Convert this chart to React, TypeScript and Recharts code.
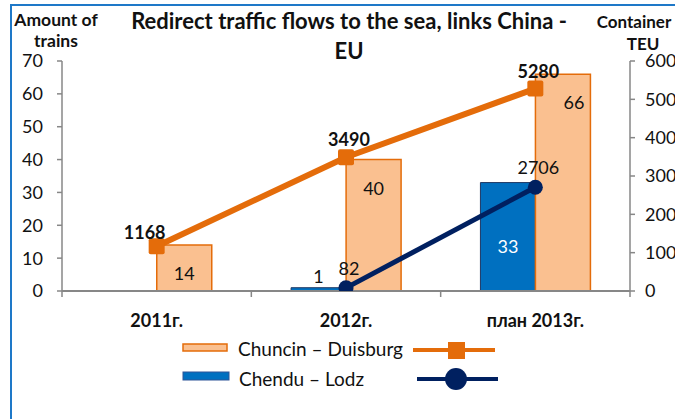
import React from 'react';
import { ComposedChart, Bar, Line, XAxis, YAxis, LabelList, Legend } from 'recharts';

const categories = ['2011г.', '2012г.', 'план 2013г.'];
const chuncinTrains = [14, 40, 66];
const chenduTrains: (number | null)[] = [null, 1, 33];
const chuncinTEU = [1168, 3490, 5280];
const chenduTEU: (number | null)[] = [null, 82, 2706];
const leftTicks = [0, 10, 20, 30, 40, 50, 60, 70];
const rightTicks = [0, 1000, 2000, 3000, 4000, 5000, 6000];

const seriesNames = {
  chuncin: 'Chuncin – Duisburg',
  chendu: 'Chendu – Lodz',
};

const data = categories.map((cat, i) => ({
  cat,
  chuncinTrains: chuncinTrains[i],
  chenduTrains: chenduTrains[i],
  chuncinTEU: chuncinTEU[i],
  chenduTEU: chenduTEU[i],
}));

const FONT = 'Lato, "Open Sans", sans-serif';
const ORANGE = '#E46C0A';
const ORANGE_FILL = '#FAC090';
const BLUE = '#0070C0';
const BLUE_EDGE = '#1F3864';
const NAVY = '#002060';
const AXIS = '#878787';
const TEXT = '#111111';

const XTick = (props: any) => {
  const { x, y, payload, index } = props;
  const off = payload && payload.offset ? payload.offset : 568 / categories.length / 2;
  return (
    <g>
      <line x1={x - off} x2={x - off} y1={y} y2={y + 6} stroke={AXIS} strokeWidth={1.5} />
      {index === categories.length - 1 && (
        <line x1={x + off} x2={x + off} y1={y} y2={y + 6} stroke={AXIS} strokeWidth={1.5} />
      )}
      <text x={x} y={y + 36} textAnchor="middle" fontFamily={FONT} fontWeight="bold" fontSize={18} fill={TEXT}>
        {payload.value}
      </text>
    </g>
  );
};

const chuncinBarLabel = (p: any) => {
  const { x, y, width, value, index } = p;
  if (value == null) return null;
  const shift = index === categories.length - 1 ? 11 : 0;
  return (
    <text x={x + width / 2 + shift} y={y + 29 + 6} textAnchor="middle" fontFamily={FONT} fontSize={18} fill={TEXT}>
      {value}
    </text>
  );
};

const chenduBarLabel = (p: any) => {
  const { x, y, width, height, value } = p;
  if (value == null) return null;
  const inside = height > 20;
  return (
    <text
      x={x + width / 2}
      y={inside ? y + height / 2 + 10 + 6 : y - 11 + 6}
      textAnchor="middle"
      fontFamily={FONT}
      fontSize={18}
      fill={inside ? '#ffffff' : TEXT}
    >
      {value}
    </text>
  );
};

const makeLineLabel = (bold: boolean) => (p: any) => {
  const { x, y, value, index } = p;
  if (value == null) return null;
  const first = bold && index === 0;
  const dx = first ? -12 : 3;
  const dy = first ? -13 : bold ? -17 : -19;
  return (
    <text x={x + dx} y={y + dy + 6} textAnchor="middle" fontFamily={FONT} fontSize={18}
      fontWeight={bold ? 'bold' : 'normal'} fill={TEXT}>
      {value}
    </text>
  );
};

const SquareDot = (p: any) => {
  const { cx, cy, value } = p;
  if (value == null || cx == null || cy == null) return <g />;
  return <rect x={cx - 8} y={cy - 8} width={16} height={16} rx={2} fill={ORANGE} />;
};

const CircleDot = (p: any) => {
  const { cx, cy, value } = p;
  if (value == null || cx == null || cy == null) return <g />;
  return <circle cx={cx} cy={cy} r={7.5} fill={NAVY} />;
};

const LegendContent = () => (
  <svg width={675} height={60} style={{ display: 'block' }}>
    <rect x={183} y={14} width={44} height={7} fill={ORANGE_FILL} stroke={ORANGE} strokeWidth={1.5} />
    <text x={238} y={26} fontFamily={FONT} fontSize={19} fill={TEXT}>{seriesNames.chuncin}</text>
    <line x1={413} x2={495} y1={20} y2={20} stroke={ORANGE} strokeWidth={4} />
    <rect x={448} y={12} width={17} height={17} fill={ORANGE} />
    <rect x={183} y={42} width={46} height={8} fill={BLUE} stroke="#2F5597" strokeWidth={1} />
    <text x={239} y={56} fontFamily={FONT} fontSize={19} fill={TEXT}>{seriesNames.chendu}</text>
    <line x1={417} x2={498} y1={49} y2={49} stroke={NAVY} strokeWidth={4} />
    <circle cx={456} cy={49} r={11} fill={NAVY} />
  </svg>
);

export default function App() {
  return (
    <div style={{ position: 'absolute', left: 0, top: 0, width: 675, height: 419, overflow: 'hidden', background: '#fff', fontFamily: FONT }}>
      <div style={{ position: 'absolute', left: 10, top: 4, width: 720, height: 500, border: '2.5px solid #1E78C8', boxSizing: 'border-box' }} />
      <div style={{ position: 'absolute', left: 0, top: 0 }}>
        <ComposedChart width={720} height={419} data={data} margin={{ top: 61, right: 0, left: 0, bottom: 0 }}
          barGap={0} barCategoryGap="21%">
          <XAxis dataKey="cat" xAxisId="x" height={128} tickLine={false} tickSize={0} tickMargin={0}
            axisLine={{ stroke: AXIS, strokeWidth: 2 }} tick={<XTick />} interval={0} />
          <YAxis yAxisId="left" orientation="left" width={62} domain={[0, 70]} ticks={leftTicks}
            allowDataOverflow tickSize={5} tickMargin={14}
            axisLine={{ stroke: AXIS, strokeWidth: 1.5 }} tickLine={{ stroke: AXIS, strokeWidth: 1.5 }}
            tick={{ fontFamily: FONT, fontSize: 18, fill: TEXT }} />
          <YAxis yAxisId="right" orientation="right" width={90} domain={[0, 6000]} ticks={rightTicks}
            allowDataOverflow tickSize={5} tickMargin={10}
            axisLine={{ stroke: AXIS, strokeWidth: 1.5 }} tickLine={{ stroke: AXIS, strokeWidth: 1.5 }}
            tick={{ fontFamily: FONT, fontSize: 18, fill: TEXT }} />
          <Bar xAxisId="x" yAxisId="left" dataKey="chenduTrains" name={seriesNames.chendu} fill={BLUE}
            stroke={BLUE_EDGE} strokeWidth={1} isAnimationActive={false}>
            <LabelList dataKey="chenduTrains" content={chenduBarLabel} />
          </Bar>
          <Bar xAxisId="x" yAxisId="left" dataKey="chuncinTrains" name={seriesNames.chuncin} fill={ORANGE_FILL}
            stroke={ORANGE} strokeWidth={1.5} isAnimationActive={false}>
            <LabelList dataKey="chuncinTrains" content={chuncinBarLabel} />
          </Bar>
          <Line xAxisId="x" yAxisId="right" dataKey="chuncinTEU" name={seriesNames.chuncin} stroke={ORANGE}
            strokeWidth={6} dot={<SquareDot />} activeDot={false} isAnimationActive={false}>
            <LabelList dataKey="chuncinTEU" content={makeLineLabel(true)} />
          </Line>
          <Line xAxisId="x" yAxisId="right" dataKey="chenduTEU" name={seriesNames.chendu} stroke={NAVY}
            strokeWidth={5} dot={<CircleDot />} activeDot={false} isAnimationActive={false}>
            <LabelList dataKey="chenduTEU" content={makeLineLabel(false)} />
          </Line>
          <Legend layout="horizontal" verticalAlign="middle" content={<LegendContent />}
            wrapperStyle={{ position: 'absolute', top: 330, left: 0, width: 675, height: 60 }} />
        </ComposedChart>
      </div>
      <div style={{ position: 'absolute', left: 6, top: 9, width: 100, textAlign: 'center', fontWeight: 'bold', fontSize: 17.5, lineHeight: '21px', color: TEXT }}>
        Amount of<br />trains
      </div>
      <div style={{ position: 'absolute', left: 99, top: 6, width: 500, textAlign: 'center', fontWeight: 'bold', fontSize: 22, lineHeight: '30px', color: TEXT }}>
        Redirect traffic flows to the sea, links China -<br />EU
      </div>
      <div style={{ position: 'absolute', left: 584, top: 11, width: 100, textAlign: 'center', fontWeight: 'bold', fontSize: 17, lineHeight: '21px', color: TEXT, whiteSpace: 'nowrap' }}>
        Container
      </div>
      <div style={{ position: 'absolute', left: 593, top: 33, width: 100, textAlign: 'center', fontWeight: 'bold', fontSize: 17, lineHeight: '21px', color: TEXT }}>
        TEU
      </div>
    </div>
  );
}
